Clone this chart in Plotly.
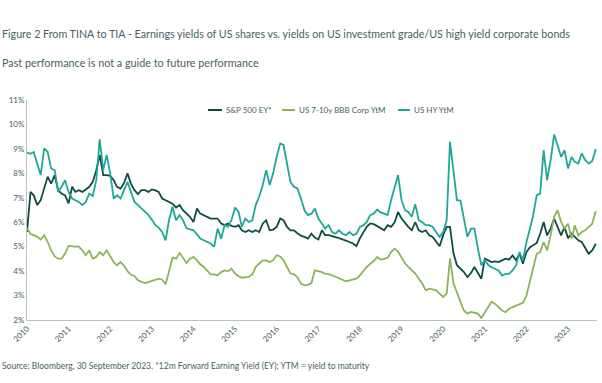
import pandas as pd
import plotly.graph_objects as go

dates = pd.date_range("2010-01-01", "2023-09-01", freq="MS")

sp500_ey = [
    5.60, 7.24, 7.10, 6.70, 6.90, 7.40, 7.86, 7.58, 7.93, 7.31, 7.17, 7.10,
    6.77, 7.45, 7.24, 7.31, 7.24, 7.34, 7.45, 7.65, 8.13, 8.75, 7.93, 7.93,
    7.90, 7.72, 7.45, 7.38, 7.60, 8.00, 7.58, 7.31, 7.15, 7.31, 7.31, 7.24,
    7.34, 7.30, 7.24, 6.97, 6.90, 6.83, 6.76, 6.60, 6.70, 6.49, 6.35, 6.22,
    6.01, 6.56, 6.35, 6.29, 6.20, 6.15, 6.15, 6.15, 5.95, 5.88, 5.95, 5.85,
    5.81, 5.88, 5.67, 5.60, 5.67, 5.60, 5.67, 5.60, 5.95, 6.08, 5.67, 5.70,
    5.81, 6.15, 6.08, 5.81, 5.67, 5.67, 5.55, 5.45, 5.40, 5.33, 5.53, 5.37,
    5.29, 5.67, 5.47, 5.47, 5.43, 5.40, 5.35, 5.30, 5.23, 5.19, 5.13, 5.02,
    5.35, 5.60, 5.81, 5.95, 5.92, 5.84, 5.75, 5.67, 5.88, 5.81, 6.00, 6.42,
    6.15, 5.95, 5.81, 5.67, 6.01, 5.67, 5.60, 5.67, 5.47, 5.40, 5.19, 5.02,
    5.47, 5.81, 5.81, 4.72, 4.24, 4.10, 3.96, 3.76, 3.92, 4.17, 3.90, 3.69,
    4.51, 4.44, 4.37, 4.40, 4.37, 4.44, 4.51, 4.47, 4.64, 4.44, 4.71, 4.30,
    4.78, 4.98, 5.05, 5.15, 5.53, 6.01, 5.46, 5.74, 6.15, 5.80, 5.46, 5.80,
    5.35, 5.53, 5.40, 5.26, 5.19, 4.92, 4.71, 4.85, 5.12,
]

bbb_ytm = [
    5.75, 5.52, 5.47, 5.40, 5.29, 5.47, 5.20, 4.85, 4.60, 4.51, 4.51, 4.72,
    5.03, 5.00, 5.00, 5.00, 4.85, 4.65, 4.85, 4.51, 4.58, 4.78, 4.65, 4.85,
    4.58, 4.37, 4.24, 4.37, 4.22, 4.00, 3.85, 3.80, 3.62, 3.58, 3.51, 3.55,
    3.60, 3.65, 3.69, 3.65, 3.46, 4.00, 4.55, 4.51, 4.74, 4.55, 4.33, 4.51,
    4.58, 4.44, 4.28, 4.17, 4.00, 3.87, 3.87, 3.83, 3.96, 4.03, 4.00, 4.10,
    3.90, 3.79, 3.73, 3.75, 3.76, 3.87, 4.17, 4.31, 4.44, 4.44, 4.37, 4.44,
    4.65, 4.60, 4.44, 4.17, 3.90, 3.87, 3.76, 3.49, 3.42, 3.44, 3.51, 4.03,
    4.00, 3.96, 3.90, 3.88, 3.83, 3.76, 3.72, 3.65, 3.58, 3.62, 3.65, 3.69,
    3.83, 4.03, 4.17, 4.30, 4.40, 4.58, 4.47, 4.50, 4.55, 4.78, 4.92, 4.80,
    4.58, 4.31, 4.17, 4.03, 3.90, 3.69, 3.49, 3.21, 3.28, 3.25, 3.21, 3.08,
    2.94, 3.08, 4.51, 3.49, 3.08, 2.74, 2.39, 2.26, 2.33, 2.30, 2.26, 2.08,
    2.30, 2.50, 2.75, 2.66, 2.53, 2.39, 2.32, 2.46, 2.53, 2.59, 2.66, 2.70,
    3.00, 3.55, 4.10, 4.71, 4.78, 5.19, 4.85, 5.46, 6.21, 6.49, 6.01, 5.74,
    5.94, 5.33, 5.87, 5.46, 5.60, 5.67, 5.80, 5.94, 6.45,
]

hy_ytm = [
    8.85, 8.80, 8.87, 8.40, 7.93, 9.02, 8.88, 8.20, 8.13, 7.24, 7.45, 7.72,
    7.24, 6.97, 6.90, 6.83, 6.70, 6.83, 7.17, 7.07, 7.72, 9.39, 8.13, 8.75,
    8.00, 6.97, 7.10, 6.97, 7.30, 7.65, 7.24, 6.83, 6.70, 6.56, 6.42, 6.30,
    6.10, 5.88, 5.78, 5.60, 5.26, 6.10, 6.63, 6.08, 6.29, 6.08, 5.75, 5.70,
    5.67, 5.50, 5.33, 5.26, 5.19, 5.13, 4.99, 5.74, 5.33, 5.88, 5.81, 6.10,
    6.60, 6.42, 5.81, 6.15, 6.01, 6.08, 6.70, 7.05, 7.52, 8.13, 7.52, 8.00,
    8.68, 9.22, 9.16, 8.40, 7.65, 7.45, 7.38, 6.97, 6.49, 6.29, 6.35, 6.56,
    6.15, 5.95, 5.74, 5.88, 5.60, 5.53, 5.67, 5.53, 5.47, 5.60, 5.47, 5.53,
    5.81, 5.88, 6.01, 6.29, 6.35, 6.52, 6.40, 6.35, 6.29, 6.90, 7.38, 7.93,
    6.90, 6.49, 6.42, 6.22, 6.74, 6.08, 6.00, 5.88, 5.88, 5.81, 5.60, 5.40,
    5.60, 6.08, 9.29, 8.13, 6.90, 6.88, 6.15, 5.40, 5.74, 5.74, 4.92, 4.24,
    4.44, 4.25, 4.16, 4.10, 4.03, 3.82, 3.89, 3.89, 4.03, 4.23, 4.78, 4.44,
    5.19, 5.74, 6.28, 7.10, 7.17, 8.95, 7.72, 8.54, 9.59, 9.15, 8.67, 8.95,
    8.20, 8.67, 8.47, 8.40, 8.81, 8.54, 8.40, 8.50, 8.99,
]

series_names = ["S&P 500 EY*", "US 7-10y BBB Corp YtM", "US HY YtM"]
series_colors = ["#0f4c43", "#8db35b", "#1fa798"]

title_text = ("Figure 2 From TINA to TIA - Earnings yields of US shares vs. yields on US "
              "investment grade/US high yield corporate bonds")
subtitle_text = "Past performance is not a guide to future performance"
source_text = ("Source: Bloomberg, 30 September 2023. *12m Forward Earning Yield (EY); "
               "YTM = yield to maturity")

FONT = "Lato, 'Liberation Sans', sans-serif"
TXT = "#46625f"

fig = go.Figure()
for name, vals, col in zip(series_names, [sp500_ey, bbb_ytm, hy_ytm], series_colors):
    fig.add_trace(go.Scatter(x=dates, y=vals, mode="lines", name=name,
                             line=dict(color=col, width=1.8), showlegend=False,
                             hoverinfo="skip"))

W, H = 602, 383
ml, mr, mt, mb = 27, 5, 100, 63
pw, ph = W - ml - mr, H - mt - mb


def px_x(px):
    return (px - ml) / pw


def px_y(py):
    return (H - mb - py) / ph


annotations = [
    dict(text=title_text, x=px_x(0), y=px_y(33), xref="paper", yref="paper",
         xanchor="left", yanchor="middle", showarrow=False,
         font=dict(size=10.7, color=TXT, family=FONT)),
    dict(text=subtitle_text, x=px_x(0), y=px_y(62), xref="paper", yref="paper",
         xanchor="left", yanchor="middle", showarrow=False,
         font=dict(size=10.8, color=TXT, family=FONT)),
    dict(text=source_text, x=px_x(0), y=px_y(366), xref="paper", yref="paper",
         xanchor="left", yanchor="middle", showarrow=False,
         font=dict(size=8.5, color=TXT, family=FONT)),
]

# custom legend (short line samples like the reference)
legend_pos = [(208, 222, 224), (282, 295, 297), (398, 410, 412)]
shapes = []
for (x0, x1, xt), name, col in zip(legend_pos, series_names, series_colors):
    shapes.append(dict(type="line", xref="paper", yref="paper",
                       x0=px_x(x0), x1=px_x(x1), y0=px_y(110), y1=px_y(110),
                       line=dict(color=col, width=2)))
    annotations.append(dict(text=name, x=px_x(xt), y=px_y(110), xref="paper", yref="paper",
                            xanchor="left", yanchor="middle", showarrow=False,
                            font=dict(size=8, color=TXT, family=FONT)))

fig.update_layout(
    width=W, height=H,
    margin=dict(l=ml, r=mr, t=mt, b=mb),
    paper_bgcolor="white", plot_bgcolor="white",
    font=dict(family=FONT, color=TXT, size=8),
    showlegend=False,
    hovermode=False,
    xaxis=dict(type="date", range=["2010-01-01", "2023-09-12"],
               tickformat="%Y", dtick="M12", tick0="2010-01-01", tickangle=-45,
               showgrid=False, showline=True, linecolor="#bfbfbf", linewidth=1,
               ticks="", tickfont=dict(size=8, color=TXT), zeroline=False),
    yaxis=dict(range=[2, 11], dtick=1, ticksuffix="%", showgrid=False,
               showline=True, linecolor="#bfbfbf", linewidth=1, ticks="",
               tickfont=dict(size=8, color=TXT), zeroline=False),
    annotations=annotations,
    shapes=shapes,
)

fig.write_html("out.html", config={"displayModeBar": False},
               post_script="document.body.style.margin='0';document.body.style.padding='0';")
